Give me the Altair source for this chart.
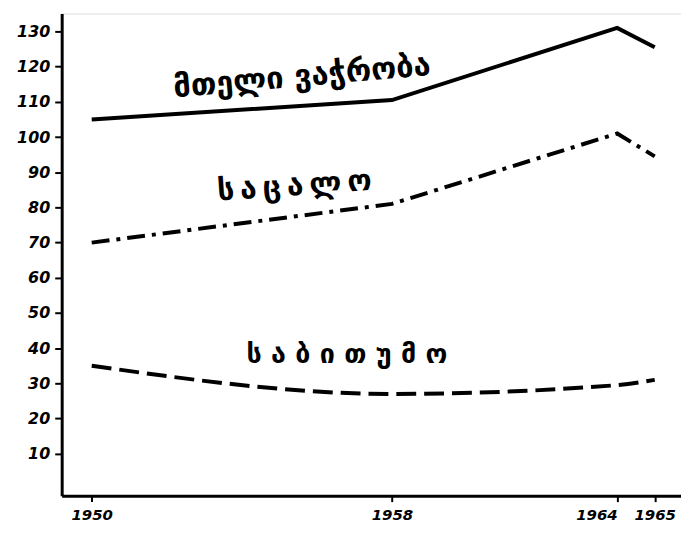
import altair as alt
import pandas as pd

years = [1950, 1958, 1964, 1965]
total = [105, 110.5, 131, 125.5]
retail = [70, 81, 101, 94.5]
wholesale = [35, 27, 29.5, 31]
series_names = ["მთელი ვაჭრობა", "საცალო", "საბითუმო"]

rows = []
for name, vals in zip(series_names, [total, retail, wholesale]):
    for y, v in zip(years, vals):
        rows.append({"year": y, "value": v, "series": name})
df = pd.DataFrame(rows)

T = "\u2009"
label_text = ["მთელი  ვაჭრობა", T.join("საცალო"), " ".join("საბითუმო")]
label_year = [1955.6, 1955.4, 1956.8]
label_value = [117, 86, 38]
label_angle = [-5, -4, 0]
label_size = [31, 30, 27]
labels = pd.DataFrame({"text": label_text, "year": label_year, "value": label_value,
                       "angle": label_angle, "size": label_size})

xs = alt.Scale(domain=[1949.2, 1965.7], nice=False, zero=False)
ys = alt.Scale(domain=[-1.9, 135.1], nice=False, zero=False)

xaxis = alt.Axis(values=years, format="d", title=None, grid=False,
                 labelFont="DejaVu Sans", labelFontSize=15, labelFontWeight="bold",
                 labelFontStyle="italic", labelColor="black", domainColor="black",
                 domainWidth=3, tickColor="black", tickWidth=2, tickSize=6, labelPadding=6,
                 labelOverlap=False, labelFlush=False,
                 labelAlign=alt.condition("datum.value == 1964", alt.value("right"), alt.value("center")))
yaxis = alt.Axis(values=list(range(10, 140, 10)), title=None, grid=False,
                 labelFont="DejaVu Sans", labelFontSize=16, labelFontWeight="bold",
                 labelFontStyle="italic", labelColor="black", domainColor="black",
                 domainWidth=3, tickColor="black", tickWidth=2, tickSize=7, labelPadding=5,
                 labelOverlap=False, labelFlush=False)

base = alt.Chart(df).encode(
    x=alt.X("year:Q", scale=xs, axis=xaxis),
    y=alt.Y("value:Q", scale=ys, axis=yaxis),
)

l1 = base.transform_filter(alt.datum.series == series_names[0]).mark_line(
    color="black", strokeWidth=4)
l2 = base.transform_filter(alt.datum.series == series_names[1]).mark_line(
    color="black", strokeWidth=4, strokeDash=[18, 7, 4, 7])
l3 = base.transform_filter(alt.datum.series == series_names[2]).mark_line(
    color="black", strokeWidth=4, strokeDash=[20, 8], interpolate="monotone")

txt = alt.Chart(labels).mark_text(
    font="DejaVu Sans", fontWeight="bold", color="black"
).encode(
    x=alt.X("year:Q", scale=xs),
    y=alt.Y("value:Q", scale=ys),
    text="text:N",
    angle=alt.Angle("angle:Q", scale=None),
    size=alt.Size("size:Q", scale=None, legend=None),
)

chart = alt.layer(l1, l2, l3, txt).properties(
    width=623, height=485,
    autosize=alt.AutoSizeParams(type="none"),
    padding={"left": 54, "top": 4, "right": 0, "bottom": 30},
).configure_view(stroke=None).configure(background="white")

chart.save("out.html", embed_options={"renderer": "svg", "actions": False})
